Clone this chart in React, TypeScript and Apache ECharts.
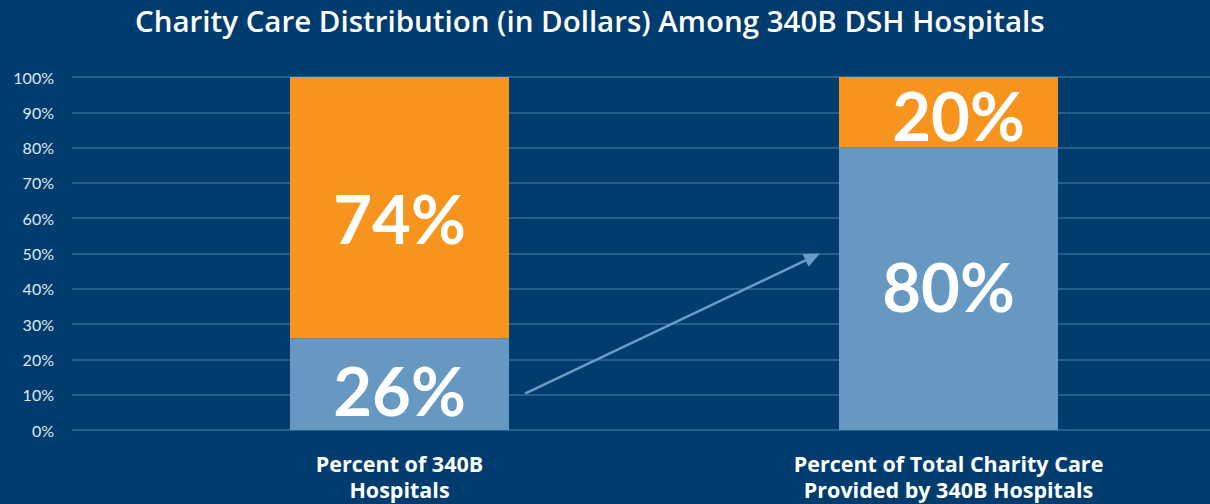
import React, { useEffect, useRef } from "react";
import * as echarts from "echarts";

const title = "Charity Care Distribution (in Dollars) Among 340B DSH Hospitals";
const categories = ["Percent of 340B\nHospitals", "Percent of Total Charity Care\nProvided by 340B Hospitals"];
const share340B = [26, 80];
const shareOther = [74, 20];
const yTicks = [0, 10, 20, 30, 40, 50, 60, 70, 80, 90, 100];

// label nudges (style only)
const blueLabelOffsets = [[0, 6], [0, -3]];
const orangeLabelOffsets = [[0, 10], [10, 3]];

const BG = "#003d6e";
const ORANGE = "#f7941e";
const BLUE = "#6698c1";
const GRID = "#2f6c9b";
const ARROW = "#6a9cc5";
const FONT = "Lato, 'Noto Sans', sans-serif";
const WIDE = "'Open Sans', Lato, sans-serif";

export default function App() {
  const ref = useRef<HTMLDivElement>(null);
  useEffect(() => {
    document.body.style.margin = "0";
    const chart = echarts.init(ref.current!, undefined, { renderer: "svg" });
    const bigLabel = {
      show: true,
      position: "inside" as const,
      color: "#ffffff",
      fontFamily: FONT,
      fontWeight: "bold" as const,
      fontSize: 67,
      formatter: (p: any) => p.value + "%",
    };
    const withOffsets = (vals: number[], offs: number[][]) =>
      vals.map((v, i) => ({ value: v, label: { offset: offs[i] } }));
    chart.setOption({
      animation: false,
      backgroundColor: BG,
      title: {
        text: title,
        left: 135,
        top: 5,
        padding: 0,
        textStyle: { color: "#ffffff", fontFamily: WIDE, fontWeight: 600, fontSize: 29.5 },
      },
      grid: [
        { left: 72, right: 0, top: 77, bottom: 74 },
        { left: 399.5, right: 261.5, top: 77, bottom: 74 },
      ],
      xAxis: [
        { type: "category", gridIndex: 0, data: ["", ""], show: false },
        {
          type: "category",
          gridIndex: 1,
          data: categories,
          boundaryGap: false,
          axisLine: { show: false },
          axisTick: { show: false },
          axisLabel: {
            color: "#ffffff",
            fontFamily: WIDE,
            fontWeight: "bold",
            fontSize: 21.5,
            lineHeight: 25.5,
            margin: 21,
            interval: 0,
            align: "center",
          },
        },
      ],
      yAxis: [
        {
          type: "value",
          gridIndex: 0,
          min: yTicks[0],
          max: yTicks[yTicks.length - 1],
          interval: 10,
          axisLine: { show: false },
          axisTick: { show: false },
          axisLabel: {
            color: "#dfe7ef",
            fontFamily: FONT,
            fontSize: 16,
            margin: 18,
            formatter: (v: number) => v + "%",
          },
          splitLine: { show: true, lineStyle: { color: GRID, width: 1.5 } },
        },
        {
          type: "value",
          gridIndex: 1,
          min: 0,
          max: 100,
          interval: 10,
          show: false,
          splitLine: { show: false },
        },
      ],
      series: [
        {
          type: "bar",
          xAxisIndex: 1,
          yAxisIndex: 1,
          stack: "total",
          data: withOffsets(share340B, blueLabelOffsets),
          barWidth: 219,
          itemStyle: { color: BLUE },
          label: bigLabel,
        },
        {
          type: "bar",
          xAxisIndex: 1,
          yAxisIndex: 1,
          stack: "total",
          data: withOffsets(shareOther, orangeLabelOffsets),
          barWidth: 219,
          itemStyle: { color: ORANGE },
          label: bigLabel,
        },
      ],
    });

    // Arrow annotation from first bar to second bar
    const half = 219 / 2;
    const p0 = chart.convertToPixel({ xAxisIndex: 1, yAxisIndex: 1 } as any, [0, 10]) as number[];
    const p1 = chart.convertToPixel({ xAxisIndex: 1, yAxisIndex: 1 } as any, [1, 50]) as number[];
    if (p0 && p1) {
      const x0 = p0[0] + half + 16;
      const y0 = p0[1] - 1;
      const x1 = p1[0] - half - 19;
      const y1 = p1[1];
      const ang = Math.atan2(y1 - y0, x1 - x0);
      const L = 16;
      const W = 7;
      const bx = x1 - L * Math.cos(ang);
      const by = y1 - L * Math.sin(ang);
      const nx = -Math.sin(ang);
      const ny = Math.cos(ang);
      chart.setOption({
        graphic: [
          {
            type: "line",
            shape: { x1: x0, y1: y0, x2: bx, y2: by },
            style: { stroke: ARROW, lineWidth: 2.5 },
            z: 10,
          },
          {
            type: "polygon",
            shape: {
              points: [
                [x1, y1],
                [bx + nx * W, by + ny * W],
                [bx - nx * W, by - ny * W],
              ],
            },
            style: { fill: ARROW },
            z: 10,
          },
        ],
      });
    }
    return () => chart.dispose();
  }, []);
  return <div ref={ref} style={{ width: 1210, height: 504 }} />;
}
